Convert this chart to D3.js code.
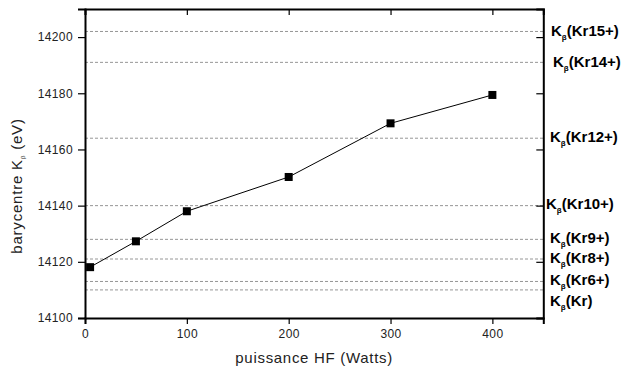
<!DOCTYPE html>
<html><head><meta charset="utf-8">
<script src="https://cdn.jsdelivr.net/npm/d3@7"></script>
<style>body{margin:0;background:#fff}svg{display:block}text{font-family:"Liberation Sans",Arial,sans-serif}</style>
</head><body>
<script>
const puissance = [5, 50, 100, 200, 300, 400];
const barycentre = [14118.1, 14127.3, 14138, 14150.2, 14169.3, 14179.4];
const refIons = ["Kr15+", "Kr14+", "Kr12+", "Kr10+", "Kr9+", "Kr8+", "Kr6+", "Kr"];
const refEnergies = [14202, 14191, 14164, 14140, 14128, 14121, 14113, 14110];
const xTicks = [0, 100, 200, 300, 400];
const yTicks = [14100, 14120, 14140, 14160, 14180, 14200];

const W = 624, H = 367;
const m = {l: 85, r: 80.7, t: 9, b: 49};
const svg = d3.select("body").append("svg").attr("width", W).attr("height", H);
const x = d3.scaleLinear().domain([0, 450]).range([m.l, W - m.r]);
const y = d3.scaleLinear().domain([14100, 14210]).range([H - m.b, m.t]);

// dashed reference lines
svg.append("g").selectAll("line").data(refEnergies).join("line")
  .attr("x1", x(0)).attr("x2", x(450)).attr("y1", d => y(d)).attr("y2", d => y(d))
  .attr("stroke", "#8a8a8a").attr("stroke-width", 0.9).attr("stroke-dasharray", "3,2");

// axes
const xMinor = d3.range(0, 451, 50);
const yMinor = d3.range(14100, 14211, 5);
const gB = svg.append("g").attr("transform", `translate(0,${y(14100)})`);
gB.call(d3.axisBottom(x).tickValues(xMinor).tickSize(3.5).tickFormat(""));
gB.call(d3.axisBottom(x).tickValues(xTicks).tickSize(6).tickFormat(d3.format("d")).tickPadding(5));
const gT = svg.append("g").attr("transform", `translate(0,${y(14210)})`);
gT.call(d3.axisBottom(x).tickValues(xMinor).tickSize(3.5).tickFormat(""));
gT.call(d3.axisBottom(x).tickValues(xTicks).tickSize(6).tickFormat(""));
const gL = svg.append("g").attr("transform", `translate(${x(0)},0)`);
gL.call(d3.axisLeft(y).tickValues(yMinor).tickSize(3.5).tickFormat(""));
gL.call(d3.axisLeft(y).tickValues(yTicks).tickSize(7).tickFormat(d3.format("d")).tickPadding(5));
const gR = svg.append("g").attr("transform", `translate(${x(450)},0)`);
gR.call(d3.axisLeft(y).tickValues(yMinor).tickSize(3.5).tickFormat(""));
gR.call(d3.axisLeft(y).tickValues(yTicks).tickSize(7).tickFormat(""));
svg.selectAll(".domain").attr("stroke", "#000").attr("stroke-width", 2);
svg.selectAll(".tick line").attr("stroke", "#000").attr("stroke-width", 1.2);
svg.selectAll(".tick text").attr("font-size", 12).attr("fill", "#222").attr("letter-spacing", 0.4)
  .attr("font-family", "'Liberation Sans', Arial, sans-serif");

// data line
svg.append("path").datum(puissance.map((p, i) => [p, barycentre[i]]))
  .attr("d", d3.line().x(d => x(d[0])).y(d => y(d[1])))
  .attr("fill", "none").attr("stroke", "#000").attr("stroke-width", 1);
svg.append("g").selectAll("rect").data(puissance).join("rect")
  .attr("x", (d) => x(d) - 4).attr("y", (d, i) => y(barycentre[i]) - 4)
  .attr("width", 8).attr("height", 8).attr("fill", "#000");

// right labels (baselines spread slightly to avoid overlap)
const labelBase = [36, 67, 141.7, 209, 243, 263, 285, 306];
const labelX = [551, 553, 550, 546, 550, 550, 550, 550];
const lab = svg.append("g").selectAll("text").data(refIons).join("text")
  .attr("x", (d, i) => labelX[i]).attr("y", (d, i) => labelBase[i])
  .attr("font-size", 15).attr("font-weight", "bold").attr("fill", "#000");
lab.append("tspan").text("K");
lab.append("tspan").attr("font-size", 8).attr("dy", 4).text("β");
lab.append("tspan").attr("dy", -4).text(d => `(${d})`);

// axis titles
svg.append("text").attr("x", x(225)).attr("y", 363).attr("text-anchor", "middle")
  .attr("font-size", 15).attr("letter-spacing", 0.7).attr("fill", "#222").text("puissance HF (Watts)");
const yt = svg.append("text").attr("transform", `translate(22,186) rotate(-90)`)
  .attr("text-anchor", "middle").attr("font-size", 15).attr("letter-spacing", 0.8).attr("fill", "#222");
yt.append("tspan").text("barycentre K");
yt.append("tspan").attr("font-size", 6).attr("dy", 3).text("β");
yt.append("tspan").attr("dy", -3).text(" (eV)");
</script>
</body></html>
